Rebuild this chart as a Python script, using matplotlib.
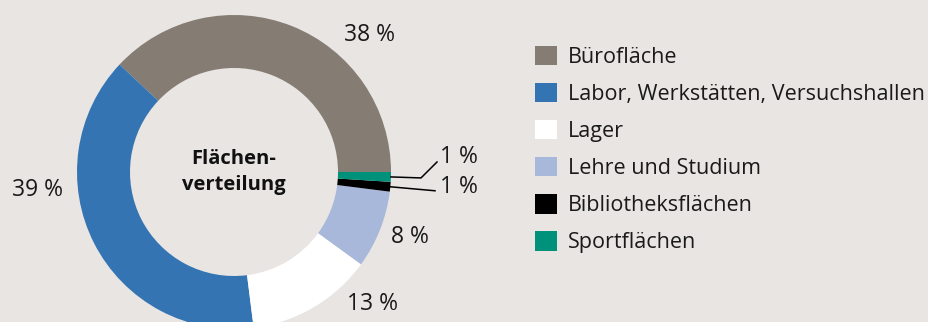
import numpy as np
import matplotlib
matplotlib.use("Agg")
import matplotlib.pyplot as plt

# Flächenverteilung in Prozent
categories = ["Bürofläche", "Labor, Werkstätten, Versuchshallen", "Lager",
              "Lehre und Studium", "Bibliotheksflächen", "Sportflächen"]
shares = [38, 39, 13, 8, 1, 1]
colors = ["#857c73", "#3474b3", "#ffffff", "#a7b8da", "#000000", "#00917a"]

bg = "#e8e5e2"
plt.rcParams["font.family"] = ["Open Sans", "DejaVu Sans"]

fig = plt.figure(figsize=(9.29, 3.22), dpi=100, facecolor=bg)
ax = fig.add_axes([0, 0, 1, 1])

cx, cy, r_out, r_in = 234, 150, 157, 104
wedges, _ = ax.pie(shares, colors=colors, startangle=0, counterclock=True,
                   center=(cx, cy), radius=r_out, frame=True,
                   wedgeprops=dict(width=r_out - r_in, linewidth=0))
ax.set_xlim(0, 929)
ax.set_ylim(0, 322)
ax.set_aspect("equal")
ax.axis("off")

ax.text(cx, cy, "Flächen-\nverteilung", ha="center", va="center",
        fontsize=14.5, fontweight="bold", linespacing=1.45, color="#111111")

# Prozentangaben
label_pos = [(370, 287), (38, 132), (373, 18), (410, 85), (459, 135), (459, 165)]
for (x, y), v in zip(label_pos, shares):
    ax.text(x, y, f"{v} %", ha="center", va="center", fontsize=16.5, color="#1a1a1a")

# Hinweislinien für die kleinen Segmente
def mid_point(w):
    a = np.deg2rad((w.theta1 + w.theta2) / 2)
    return cx + r_out * np.cos(a), cy + r_out * np.sin(a)

x0, y0 = mid_point(wedges[5])
ax.plot([x0, 421, 437], [y0, y0 - 1, 160], color="black", lw=1.1)
x0, y0 = mid_point(wedges[4])
ax.plot([x0, 435], [y0, y0 - 4], color="black", lw=1.1)

leg = ax.legend(wedges, categories, loc="upper left", bbox_to_anchor=(535 / 929, 1 - 46 / 322),
                frameon=False, fontsize=15.5, handlelength=1.0, handleheight=1.0,
                handletextpad=0.55, labelspacing=0.7, borderaxespad=0, borderpad=0)
for t in leg.get_texts():
    t.set_color("#1a1a1a")

fig.savefig("out.png", dpi=100, facecolor=bg)
